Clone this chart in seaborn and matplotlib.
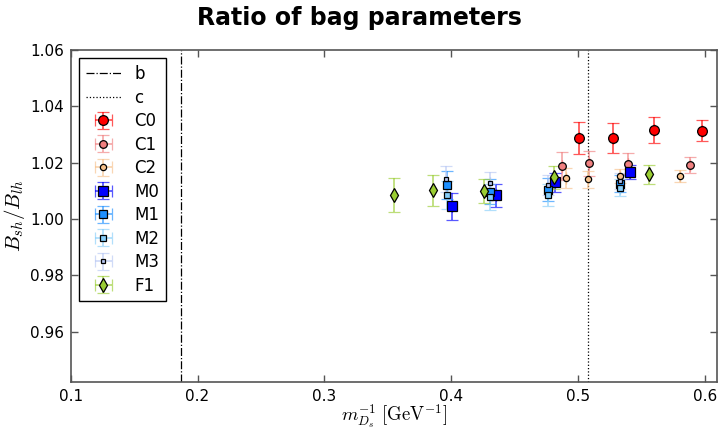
import numpy as np
import pandas as pd
import matplotlib
matplotlib.use("Agg")
import matplotlib.pyplot as plt
import seaborn as sns

# ---- data ----
c0_x = [0.5006, 0.5279, 0.5597, 0.5975]
c0_y = [1.0288, 1.0288, 1.0316, 1.0314]
c0_e = [0.0056, 0.0052, 0.0046, 0.0037]

c1_x = [0.4872, 0.5090, 0.5394, 0.5883]
c1_y = [1.0188, 1.0198, 1.0196, 1.0192]
c1_e = [0.0050, 0.0045, 0.0037, 0.0028]

c2_x = [0.4903, 0.5079, 0.5329, 0.5804]
c2_y = [1.0145, 1.0142, 1.0153, 1.0154]
c2_e = [0.0035, 0.0030, 0.0025, 0.0021]

m0_x = [0.4007, 0.4354, 0.4815, 0.5407]
m0_y = [1.0045, 1.0084, 1.0131, 1.0166]
m0_e = [0.0048, 0.0040, 0.0034, 0.0025]

m1_x = [0.3965, 0.4310, 0.4765, 0.5335]
m1_y = [1.0121, 1.0097, 1.0105, 1.0125]
m1_e = [0.0050, 0.0045, 0.0040, 0.0030]

m2_x = [0.3965, 0.4310, 0.4765, 0.5335]
m2_y = [1.0085, 1.0079, 1.0086, 1.0112]
m2_e = [0.0050, 0.0045, 0.0040, 0.0030]

m3_x = [0.3962, 0.4305, 0.4762, 0.5330]
m3_y = [1.0142, 1.0127, 1.0122, 1.0135]
m3_e = [0.0045, 0.0040, 0.0035, 0.0028]

f1_x = [0.3548, 0.3853, 0.4259, 0.4809, 0.5563]
f1_y = [1.0085, 1.0102, 1.0100, 1.0148, 1.0159]
f1_e = [0.0060, 0.0055, 0.0043, 0.0040, 0.0034]

b_line = 0.1867
c_line = 0.5079

# ---- style ----
sns.set_style("ticks")
plt.rcParams['font.family'] = ['DejaVu Sans']
plt.rcParams['mathtext.fontset'] = 'cm'
plt.rcParams['text.color'] = 'black'
plt.rcParams['axes.labelcolor'] = 'black'
plt.rcParams['xtick.labelcolor'] = 'black'
plt.rcParams['ytick.labelcolor'] = 'black'

series = [
    ('C0', c0_x, c0_y, c0_e, 'o', '#ff0000', 7.0),
    ('C1', c1_x, c1_y, c1_e, 'o', '#f08080', 5.5),
    ('C2', c2_x, c2_y, c2_e, 'o', '#f6c08a', 4.5),
    ('M0', m0_x, m0_y, m0_e, 's', '#0000ff', 6.5),
    ('M1', m1_x, m1_y, m1_e, 's', '#1e90ff', 5.5),
    ('M2', m2_x, m2_y, m2_e, 's', '#87cefa', 4.5),
    ('M3', m3_x, m3_y, m3_e, 's', '#b8c8f4', 3.5),
    ('F1', f1_x, f1_y, f1_e, 'd', '#9acd32', 7.5),
]

frames = []
for name, xs, ys, es, mk, col, ms in series:
    frames.append(pd.DataFrame({'ens': name, 'x': xs, 'y': ys, 'err': es}))
df = pd.concat(frames, ignore_index=True)

fig = plt.figure(figsize=(7.19, 4.30), dpi=100)
ax = fig.add_axes([0.0983, 0.1123, 0.8987, 0.7714])

ax.axvline(b_line, color='black', linestyle='-.', linewidth=0.9, label='b')
ax.axvline(c_line, color='black', linestyle=':', linewidth=0.9, label='c')

for name, xs, ys, es, mk, col, ms in series:
    sub = df[df['ens'] == name]
    ecol = matplotlib.colors.to_rgba(col, 0.65)
    ax.errorbar(sub['x'], sub['y'], yerr=sub['err'], xerr=np.zeros(len(sub)),
                fmt=mk, color=col, ecolor=ecol, markersize=ms,
                markeredgecolor='black', markeredgewidth=0.9,
                elinewidth=1.3, capsize=4, capthick=1.3, label=name)

ax.set_xlim(0.1, 0.6095)
ax.set_ylim(0.9423, 1.06)
ax.set_xticks([0.1, 0.2, 0.3, 0.4, 0.5, 0.6])
ax.set_yticks([0.96, 0.98, 1.00, 1.02, 1.04, 1.06])
ax.set_yticklabels(['0.96', '0.98', '1.00', '1.02', '1.04', '1.06'])
ax.tick_params(direction='in', top=True, right=True, length=5,
               width=1, color='#555555', labelsize=11, pad=5)
for sp in ax.spines.values():
    sp.set_color('#555555')
    sp.set_linewidth(1.2)

ax.set_xlabel(r'$m_{D_s}^{-1}\;[\mathrm{GeV}^{-1}]$', fontsize=13.5, labelpad=-1)
ax.set_ylabel(r'$B_{sh}/B_{lh}$', fontsize=15, labelpad=2)

leg = ax.legend(loc='upper left', fontsize=12, frameon=True, fancybox=False,
                edgecolor='black', framealpha=1, borderaxespad=0.5,
                handlelength=2.1, handletextpad=0.8, labelspacing=0.33)
leg.get_frame().set_linewidth(1.0)

fig.suptitle('Ratio of bag parameters', fontsize=17, fontweight='bold',
             color='black', y=0.985)

fig.savefig('out.png', dpi=100)
